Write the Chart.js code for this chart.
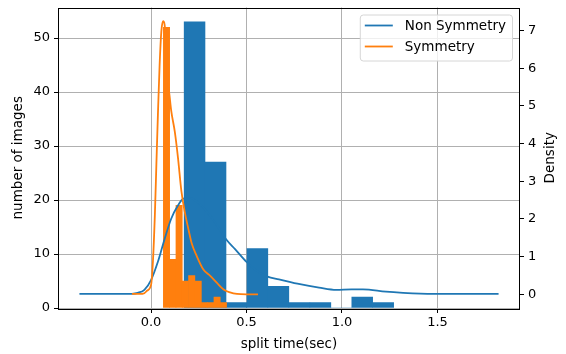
<!DOCTYPE html>
<html>
<head>
<meta charset="utf-8">
<script src="https://cdn.jsdelivr.net/npm/chart.js@4.4.0/dist/chart.umd.min.js"></script>
<style>
  html, body { margin: 0; padding: 0; background: #fff; }
  canvas { display: block; }
</style>
</head>
<body>
<canvas id="splitChart" width="566" height="354"></canvas>
<script>
// histogram bins (centres) and counts
const nonSymBins = [0.228, 0.338, 0.447, 0.557, 0.667, 0.777, 0.887, 0.996, 1.106, 1.216];
const nonSymCounts = [53, 27, 1, 11, 4, 1, 1, 0, 2, 1];
const symBins = [0.081, 0.114, 0.147, 0.180, 0.213, 0.247, 0.280, 0.313, 0.346, 0.379];
const symCounts = [52, 9, 19, 5, 6, 5, 1, 1, 2, 1];

// density curves
const nonSymKdeX = [-0.375, -0.25, -0.15, -0.1, -0.07, -0.035, 0.0, 0.035, 0.07, 0.105, 0.14, 0.17, 0.2, 0.25, 0.3, 0.35, 0.393, 0.44, 0.5, 0.555, 0.61, 0.67, 0.78, 0.88, 0.97, 1.05, 1.11, 1.23, 1.32, 1.41, 1.58, 1.82];
const nonSymKdeY = [0.01, 0.01, 0.01, 0.015, 0.04, 0.12, 0.38, 0.85, 1.45, 2.0, 2.35, 2.54, 2.56, 2.42, 2.15, 1.8, 1.46, 1.2, 0.86, 0.62, 0.47, 0.4, 0.27, 0.18, 0.12, 0.13, 0.13, 0.07, 0.04, 0.02, 0.01, 0.01];
const symKdeX = [-0.1, -0.06, -0.035, -0.02, 0.0, 0.01, 0.02, 0.028, 0.036, 0.045, 0.054, 0.063, 0.071, 0.08, 0.089, 0.098, 0.106, 0.124, 0.141, 0.159, 0.176, 0.194, 0.212, 0.239, 0.274, 0.31, 0.344, 0.38, 0.414, 0.45, 0.5, 0.56];
const symKdeY = [0.01, 0.01, 0.03, 0.1, 0.25, 0.88, 2.1, 3.45, 4.77, 6.1, 6.98, 7.25, 7.16, 6.54, 5.66, 5.22, 4.86, 4.33, 3.63, 2.74, 2.2, 1.77, 1.37, 1.02, 0.66, 0.49, 0.31, 0.13, 0.05, 0.01, 0.0, 0.0];

const xTicks = [0.0, 0.5, 1.0, 1.5];
const countTicks = [0, 10, 20, 30, 40, 50];
const densityTicks = [0, 1, 2, 3, 4, 5, 6, 7];

const blue = "#1f77b4";
const orange = "#ff7f0e";
const font = "'DejaVu Sans', sans-serif";
Chart.defaults.font.family = font;
Chart.defaults.color = "#000";

function pairs(xs, ys) {
    return xs.map((x, i) => ({ x: x, y: ys[i] }));
}
function fixTicks(list) {
    return function (scale) { scale.ticks = list.map(v => ({ value: v })); };
}
// fixed axis sizes, no extra padding for overhanging labels
function fitWidth(w) {
    return function (s) { s.width = w; s.paddingTop = 0; s.paddingBottom = 0; };
}
function fitHeight(h) {
    return function (s) { s.height = h; s.paddingLeft = 0; s.paddingRight = 0; };
}

// frame around the plot + "Density" label reading upwards
const framePlugin = {
    id: "frame",
    afterDatasetsDraw(chart) {
        const a = chart.chartArea;
        const ctx = chart.ctx;
        ctx.save();
        ctx.strokeStyle = "#000";
        ctx.lineWidth = 1;
        ctx.strokeRect(Math.round(a.left) - 0.5, Math.round(a.top) + 0.5, Math.round(a.right - a.left) + 1, Math.round(a.bottom - a.top));
        ctx.restore();
    },
    afterDraw(chart) {
        const a = chart.chartArea;
        const ctx = chart.ctx;
        ctx.save();
        ctx.translate(550, (a.top + a.bottom) / 2);
        ctx.rotate(-Math.PI / 2);
        ctx.font = "13.5px " + font;
        ctx.fillStyle = "#000";
        ctx.textAlign = "center";
        ctx.textBaseline = "middle";
        ctx.fillText("Density", 0, 0);
        ctx.restore();
    }
};

// legend box in the upper right corner, lines only
const legendPlugin = {
    id: "legendBox",
    afterDraw(chart) {
        const a = chart.chartArea;
        const ctx = chart.ctx;
        const items = chart.data.datasets.filter(d => d.type === "line");
        ctx.save();
        ctx.font = "13.5px " + font;
        const textW = Math.max(...items.map(d => ctx.measureText(d.label).width));
        const w = 5 + 28 + 12 + textW + 6;
        const h = 46;
        const x = a.right - 7 - w;
        const y = a.top + 7;
        ctx.beginPath();
        ctx.roundRect(x + 0.5, y + 0.5, w, h, 3);
        ctx.fillStyle = "rgba(255,255,255,0.8)";
        ctx.fill();
        ctx.strokeStyle = "#d6d6d6";
        ctx.lineWidth = 1;
        ctx.stroke();
        items.forEach((d, i) => {
            const cy = y + 11 + i * 21;
            ctx.beginPath();
            ctx.moveTo(x + 5, cy);
            ctx.lineTo(x + 33, cy);
            ctx.strokeStyle = d.borderColor;
            ctx.lineWidth = 1.8;
            ctx.stroke();
            ctx.fillStyle = "#000";
            ctx.textBaseline = "middle";
            ctx.fillText(d.label, x + 45, cy + 1);
        });
        ctx.restore();
    }
};

const xMin = -0.482, xMax = 1.927;

new Chart(document.getElementById("splitChart"), {
    type: "line",
    data: {
        datasets: [
            {
                type: "bar", label: "Non Symmetry hist", data: pairs(nonSymBins, nonSymCounts),
                xAxisID: "x", yAxisID: "y", backgroundColor: blue, borderWidth: 0,
                barPercentage: 1, categoryPercentage: 1, grouped: false, order: 3
            },
            {
                type: "bar", label: "Symmetry hist", data: pairs(symBins, symCounts),
                xAxisID: "x2", yAxisID: "y", backgroundColor: orange, borderWidth: 0,
                barPercentage: 1, categoryPercentage: 1, grouped: false, order: 2
            },
            {
                type: "line", label: "Non Symmetry", data: pairs(nonSymKdeX, nonSymKdeY),
                xAxisID: "x", yAxisID: "y2", borderColor: blue, borderWidth: 1.8,
                pointRadius: 0, cubicInterpolationMode: "monotone", fill: false, order: 1
            },
            {
                type: "line", label: "Symmetry", data: pairs(symKdeX, symKdeY),
                xAxisID: "x", yAxisID: "y2", borderColor: orange, borderWidth: 1.8,
                pointRadius: 0, cubicInterpolationMode: "monotone", fill: false, order: 0
            }
        ]
    },
    options: {
        responsive: false,
        animation: false,
        devicePixelRatio: 1,
        layout: { padding: { top: 7.5, left: 0, right: 0, bottom: 0 } },
        plugins: { legend: { display: false }, tooltip: { enabled: false } },
        scales: {
            x: {
                type: "linear", position: "bottom", min: xMin, max: xMax, offset: false,
                afterBuildTicks: fixTicks(xTicks),
                afterFit: fitHeight(46),
                grid: { color: "#b0b0b0", lineWidth: 1, tickLength: 5, tickColor: "#000", offset: false },
                border: { display: false },
                ticks: { font: { size: 13 }, padding: 2, maxRotation: 0, callback: v => v.toFixed(1) },
                title: { display: true, text: "split time(sec)", font: { size: 13.5 }, padding: { top: 0, bottom: 1 } }
            },
            x2: {
                type: "linear", display: false, min: xMin, max: xMax, offset: false,
                grid: { offset: false }
            },
            y: {
                type: "linear", position: "left", min: 0, max: 55.65,
                afterBuildTicks: fixTicks(countTicks),
                afterFit: fitWidth(59),
                grid: { color: "#b0b0b0", lineWidth: 1, tickLength: 5, tickColor: "#000" },
                border: { display: false },
                ticks: { font: { size: 13 }, padding: 4 },
                title: { display: true, text: "number of images", font: { size: 13.5 }, padding: { top: 10, bottom: 0 } }
            },
            y2: {
                type: "linear", position: "right", min: -0.3625, max: 7.6125,
                afterBuildTicks: fixTicks(densityTicks),
                afterFit: fitWidth(47),
                grid: { drawOnChartArea: false, tickLength: 5, tickColor: "#000" },
                border: { display: false },
                ticks: { font: { size: 13 }, padding: 4 }
            }
        }
    },
    plugins: [framePlugin, legendPlugin]
});
</script>
</body>
</html>
